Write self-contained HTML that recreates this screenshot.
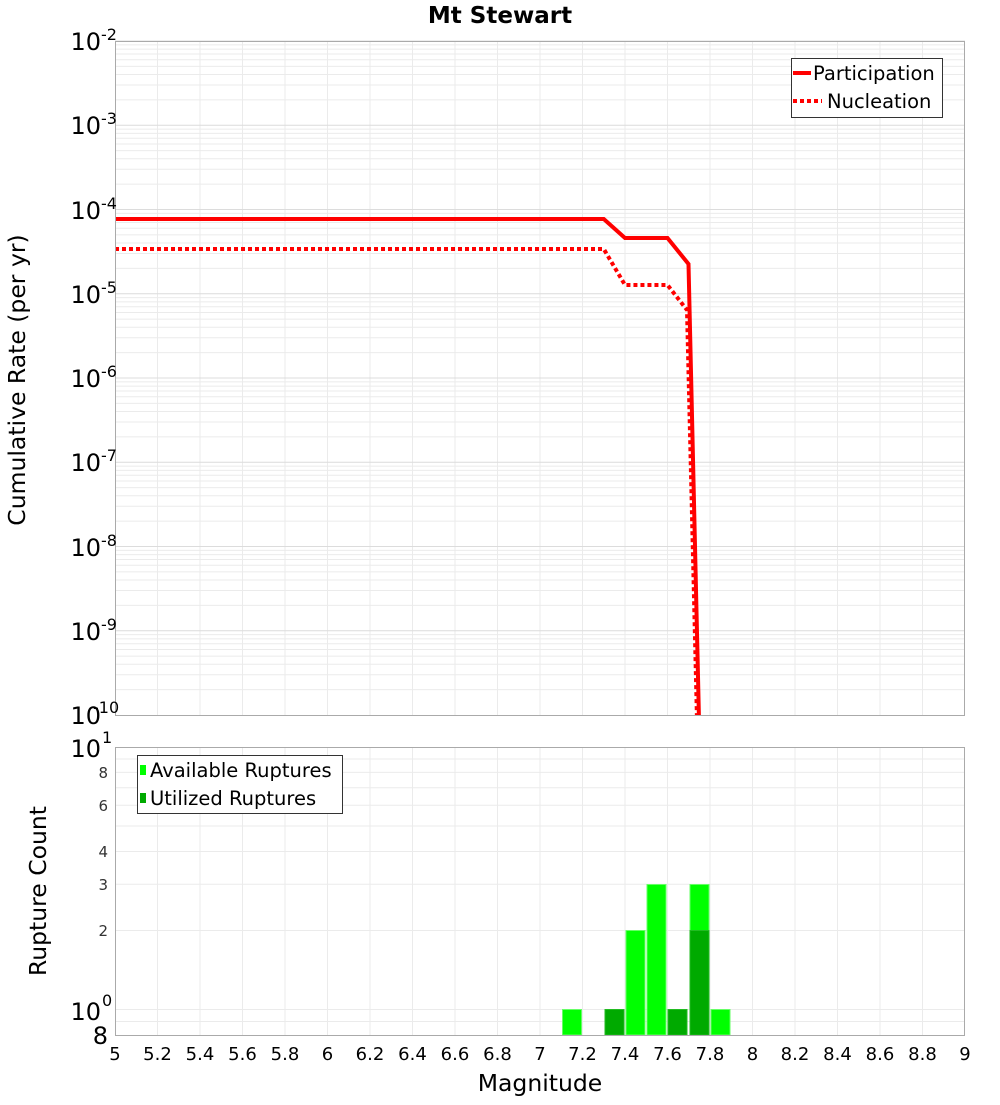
<!DOCTYPE html>
<html><head><meta charset="utf-8"><style>
body{margin:0;background:#fff;width:1000px;height:1100px;overflow:hidden}
svg{font-family:"DejaVu Sans","Liberation Sans",sans-serif}
</style></head><body>
<svg width="1000" height="1100" viewBox="0 0 1000 1100" xmlns="http://www.w3.org/2000/svg">
<defs>
<clipPath id="c1"><rect x="115" y="41" width="850" height="674"/></clipPath>
<g id="dec" stroke="#ebebeb" stroke-width="1">
<line x1="115" x2="965" y1="58.89" y2="58.89"/><line x1="115" x2="965" y1="44.05" y2="44.05"/>
<line x1="115" x2="965" y1="33.53" y2="33.53"/><line x1="115" x2="965" y1="25.36" y2="25.36"/>
<line x1="115" x2="965" y1="18.69" y2="18.69"/><line x1="115" x2="965" y1="13.05" y2="13.05"/>
<line x1="115" x2="965" y1="8.17" y2="8.17"/><line x1="115" x2="965" y1="3.86" y2="3.86"/>
<line x1="115" x2="965" y1="0" y2="0" stroke="#dcdcdc"/>
</g>
<g id="vg" stroke="#ebebeb" stroke-width="1">
<line x1="157.5" x2="157.5" y1="0" y2="1"/><line x1="200" x2="200" y1="0" y2="1"/><line x1="242.5" x2="242.5" y1="0" y2="1"/><line x1="285" x2="285" y1="0" y2="1"/><line x1="327.5" x2="327.5" y1="0" y2="1"/><line x1="370" x2="370" y1="0" y2="1"/><line x1="412.5" x2="412.5" y1="0" y2="1"/><line x1="455" x2="455" y1="0" y2="1"/><line x1="497.5" x2="497.5" y1="0" y2="1"/><line x1="540" x2="540" y1="0" y2="1"/><line x1="582.5" x2="582.5" y1="0" y2="1"/><line x1="625" x2="625" y1="0" y2="1"/><line x1="667.5" x2="667.5" y1="0" y2="1"/><line x1="710" x2="710" y1="0" y2="1"/><line x1="752.5" x2="752.5" y1="0" y2="1"/><line x1="795" x2="795" y1="0" y2="1"/><line x1="837.5" x2="837.5" y1="0" y2="1"/><line x1="880" x2="880" y1="0" y2="1"/><line x1="922.5" x2="922.5" y1="0" y2="1"/>
</g>
</defs>
<text x="500" y="23" font-size="23" font-weight="bold" text-anchor="middle">Mt Stewart</text>
<use href="#vg" transform="translate(0,41) scale(1,674)"/>
<use href="#dec" transform="translate(0,41)"/><use href="#dec" transform="translate(0,125.25)"/>
<use href="#dec" transform="translate(0,209.5)"/><use href="#dec" transform="translate(0,293.75)"/>
<use href="#dec" transform="translate(0,378)"/><use href="#dec" transform="translate(0,462.25)"/>
<use href="#dec" transform="translate(0,546.5)"/><use href="#dec" transform="translate(0,630.75)"/>
<g clip-path="url(#c1)" fill="none" stroke="#ff0000" stroke-width="4">
<path d="M115,219 L603.75,219 L625,238 L667.5,238 L688.5,264 L699,720"/>
<path d="M115,249 L603.75,249 L625,285 L667.5,285 L687,310 L697,720" stroke-dasharray="4,3"/>
</g>
<rect x="115.5" y="41.5" width="849" height="674" fill="none" stroke="#aaa"/>
<g font-size="24" text-anchor="end">
<text x="101" y="50">10</text><text x="101" y="134">10</text><text x="101" y="219">10</text><text x="101" y="303">10</text><text x="101" y="387">10</text><text x="101" y="471">10</text><text x="101" y="556">10</text><text x="101" y="640">10</text><text x="101" y="724">10</text>
</g>
<g font-size="16">
<text x="101" y="40">-2</text><text x="101" y="124">-3</text><text x="101" y="209">-4</text><text x="101" y="293">-5</text><text x="101" y="377">-6</text><text x="101" y="461">-7</text><text x="101" y="546">-8</text><text x="101" y="630">-9</text><text x="93" y="713">-10</text>
</g>
<text transform="translate(25,380) rotate(-90)" font-size="23.5" text-anchor="middle">Cumulative Rate (per yr)</text>
<rect x="791.5" y="58.5" width="151" height="59" fill="#fff" stroke="#333"/>
<line x1="793" x2="811" y1="73" y2="73" stroke="#f00" stroke-width="4"/>
<line x1="793" x2="822" y1="101" y2="101" stroke="#f00" stroke-width="4" stroke-dasharray="4,3"/>
<text x="813" y="80" font-size="19.5">Participation</text>
<text x="827" y="108" font-size="19.5">Nucleation</text>
<use href="#vg" transform="translate(0,747) scale(1,288)"/>
<g stroke="#ebebeb">
<line x1="115" x2="965" y1="930.5" y2="930.5"/><line x1="115" x2="965" y1="884.3" y2="884.3"/><line x1="115" x2="965" y1="851.5" y2="851.5"/><line x1="115" x2="965" y1="826" y2="826"/><line x1="115" x2="965" y1="805.2" y2="805.2"/><line x1="115" x2="965" y1="787.7" y2="787.7"/><line x1="115" x2="965" y1="772.4" y2="772.4"/><line x1="115" x2="965" y1="759" y2="759"/><line x1="115" x2="965" y1="1009.5" y2="1009.5"/><line x1="115" x2="965" y1="1021.5" y2="1021.5"/>
</g>
<g fill="#00ff00" stroke="#66ff66" stroke-width="1">
<rect x="562.5" y="1009.5" width="19" height="25.5"/>
<rect x="626" y="930.5" width="19" height="104.5"/>
<rect x="647" y="884.5" width="19" height="150.5"/>
<rect x="690" y="884.5" width="19" height="150.5"/>
<rect x="711" y="1009.5" width="19" height="25.5"/>
</g>
<g fill="#00aa00" stroke="#22bb22" stroke-width="1">
<rect x="605" y="1009.5" width="19" height="25.5"/>
<rect x="668" y="1009.5" width="19" height="25.5"/>
<rect x="690" y="930.5" width="19" height="104.5"/>
</g>
<rect x="115.5" y="747.5" width="849" height="288" fill="none" stroke="#aaa"/>
<g font-size="15" fill="#333" text-anchor="end">
<text x="108" y="778">8</text><text x="108" y="811">6</text><text x="108" y="857">4</text><text x="108" y="890">3</text><text x="108" y="936">2</text>
</g>
<g font-size="24" text-anchor="end">
<text x="101" y="757">10</text><text x="101" y="1020">10</text><text x="108" y="1044">8</text>
</g>
<g font-size="16"><text x="102" y="743">1</text><text x="102" y="1006">0</text></g>
<text transform="translate(46,891) rotate(-90)" font-size="23.5" text-anchor="middle">Rupture Count</text>
<rect x="137.5" y="755.5" width="205" height="58" fill="#fff" stroke="#333"/>
<rect x="140" y="765" width="6" height="10" fill="#00ff00"/>
<rect x="140" y="793" width="6" height="10" fill="#00aa00"/>
<text x="150" y="777" font-size="19.5">Available Ruptures</text>
<text x="150" y="805" font-size="19.5">Utilized Ruptures</text>
<g font-size="18" text-anchor="middle">
<text x="115" y="1060">5</text><text x="157.5" y="1060">5.2</text><text x="200" y="1060">5.4</text><text x="242.5" y="1060">5.6</text><text x="285" y="1060">5.8</text><text x="327.5" y="1060">6</text><text x="370" y="1060">6.2</text><text x="412.5" y="1060">6.4</text><text x="455" y="1060">6.6</text><text x="497.5" y="1060">6.8</text><text x="540" y="1060">7</text><text x="582.5" y="1060">7.2</text><text x="625" y="1060">7.4</text><text x="667.5" y="1060">7.6</text><text x="710" y="1060">7.8</text><text x="752.5" y="1060">8</text><text x="795" y="1060">8.2</text><text x="837.5" y="1060">8.4</text><text x="880" y="1060">8.6</text><text x="922.5" y="1060">8.8</text><text x="965" y="1060">9</text>
</g>
<text x="540" y="1091" font-size="23.5" text-anchor="middle">Magnitude</text>
</svg>
</body></html>
